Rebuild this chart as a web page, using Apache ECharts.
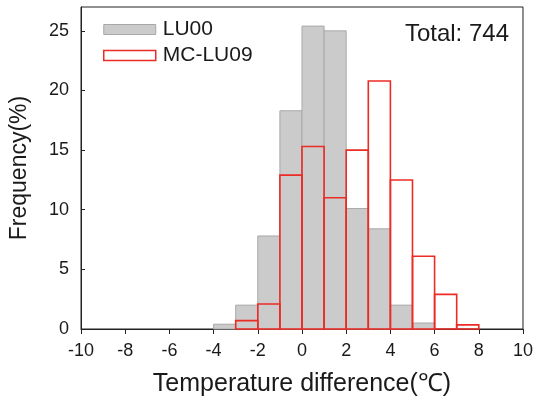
<!DOCTYPE html>
<html>
<head>
<meta charset="utf-8">
<script src="https://cdn.jsdelivr.net/npm/echarts@6/dist/echarts.min.js"></script>
<style>html,body{margin:0;padding:0;background:#fff}#c{width:536px;height:402px}</style>
</head>
<body>
<div id="c"></div>
<script>
// Histogram bins (left edges, width 1 °C)
const binStarts = [-4, -3, -2, -1, 0, 1, 2, 3, 4, 5, 6, 7];
const binWidth = 1;
const lu00 = [0.4, 2.0, 7.8, 18.3, 25.4, 25.0, 10.1, 8.4, 2.0, 0.5, 0, 0];
const mcLu09 = [0, 0.7, 2.1, 12.9, 15.3, 11.0, 15.0, 20.8, 12.5, 6.1, 2.9, 0.35];
const xTicks = [-10, -8, -6, -4, -2, 0, 2, 4, 6, 8, 10];
const yTicks = [0, 5, 10, 15, 20, 25];
const seriesNames = ['LU00', 'MC-LU09'];
const totalText = 'Total: 744';

const FONT = '"Liberation Sans", Arial, sans-serif';
const GRAY_FILL = '#cbcbcb', GRAY_EDGE = '#a8a8a8', RED = '#ec2b25';

function toData(vals) {
  return binStarts.map((s, i) => [s, s + binWidth, vals[i]]).filter(d => d[2] > 0);
}
function makeRender(fill, stroke, lw) {
  return function (params, api) {
    const p0 = api.coord([api.value(0), api.value(2)]);
    const p1 = api.coord([api.value(1), 0]);
    return {
      type: 'rect',
      shape: { x: p0[0], y: p0[1], width: p1[0] - p0[0], height: p1[1] - p0[1] },
      style: { fill: fill, stroke: stroke, lineWidth: lw }
    };
  };
}

const chart = echarts.init(document.getElementById('c'), null, { renderer: 'canvas' });
chart.setOption({
  backgroundColor: '#fff',
  animation: false,
  textStyle: { fontFamily: FONT },
  grid: { left: 75, right: 13, top: 7, bottom: 72, show: true, borderColor: '#222', borderWidth: 1, backgroundColor: 'transparent' },
  xAxis: {
    type: 'value', min: xTicks[0], max: xTicks[xTicks.length - 1], interval: 2,
    name: 'Temperature difference(℃)', nameLocation: 'middle', nameGap: 43,
    nameTextStyle: { fontSize: 25, color: '#1a1a1a', fontFamily: FONT },
    axisLine: { show: true, onZero: false, lineStyle: { color: '#222', width: 1 } },
    axisTick: { show: true, inside: false, length: 5, lineStyle: { color: '#222' } },
    axisLabel: { fontSize: 18, color: '#1a1a1a', margin: 13, fontFamily: FONT },
    splitLine: { show: false }
  },
  yAxis: {
    type: 'value', min: 0, max: 27, interval: 5,
    name: 'Frequency(%)', nameLocation: 'middle', nameGap: 50, nameRotate: 90,
    nameTextStyle: { fontSize: 23, color: '#1a1a1a', fontFamily: FONT },
    axisLine: { show: true, onZero: false, lineStyle: { color: '#222', width: 1 } },
    axisTick: { show: true, inside: true, length: 4, lineStyle: { color: '#222' } },
    axisLabel: { fontSize: 18, color: '#1a1a1a', margin: 12, fontFamily: FONT, showMaxLabel: false,
      formatter: v => (yTicks.indexOf(v) >= 0 ? String(v) : '') },
    splitLine: { show: false }
  },
  legend: {
    orient: 'vertical', left: 98, top: 14, itemWidth: 52, itemHeight: 10, itemGap: 5,
    icon: 'rect',
    textStyle: { fontSize: 21, color: '#1a1a1a', lineHeight: 20, padding: [0, 0, 0, 2], fontFamily: FONT },
    data: [
      { name: seriesNames[0], itemStyle: { color: GRAY_FILL, borderColor: GRAY_EDGE, borderWidth: 1 } },
      { name: seriesNames[1], itemStyle: { color: '#fff', borderColor: RED, borderWidth: 1.5 } }
    ]
  },
  graphic: [{
    type: 'text', right: 27, top: 22,
    style: { text: totalText, fontSize: 24, fill: '#1a1a1a', fontFamily: FONT }
  }],
  series: [
    { name: seriesNames[0], type: 'custom', renderItem: makeRender(GRAY_FILL, GRAY_EDGE, 1),
      encode: { x: [0, 1], y: 2 }, data: toData(lu00), itemStyle: { color: GRAY_FILL }, z: 2 },
    { name: seriesNames[1], type: 'custom', renderItem: makeRender('rgba(0,0,0,0)', RED, 1.6),
      encode: { x: [0, 1], y: 2 }, data: toData(mcLu09), itemStyle: { color: RED }, z: 3 }
  ]
});
</script>
</body>
</html>
